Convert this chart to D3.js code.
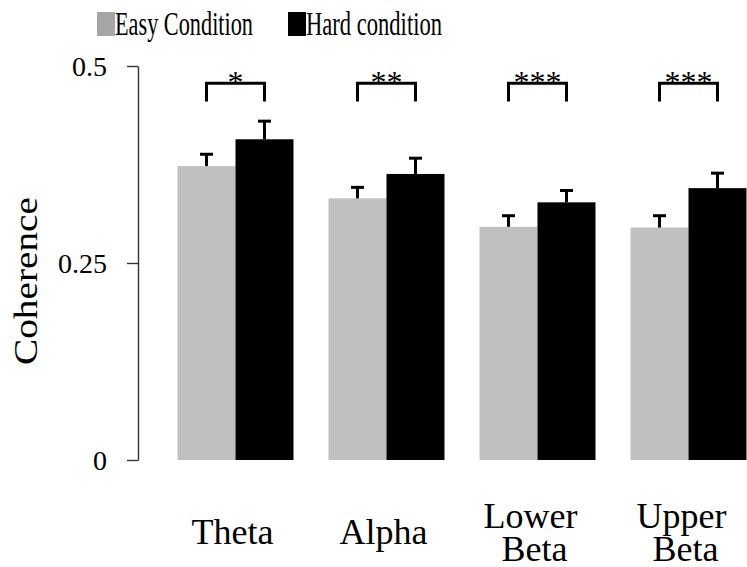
<!DOCTYPE html>
<html>
<head>
<meta charset="utf-8">
<script src="https://cdn.jsdelivr.net/npm/d3@7"></script>
<style>
  html, body { margin: 0; padding: 0; background: #fff; }
  svg { display: block; }
  svg text { font-family: "Liberation Serif", "Times New Roman", serif; }
</style>
</head>
<body>
<svg id="chart" width="747" height="567"></svg>
<script>
// Frequency bands and mean coherence per condition
const bands = ["Theta", "Alpha", "Lower Beta", "Upper Beta"];
const bandLines = [["Theta"], ["Alpha"], ["Lower", "Beta"], ["Upper", "Beta"]];
const conditions = ["Easy Condition", "Hard condition"];
const easyValues = [0.373, 0.332, 0.296, 0.295];
const hardValues = [0.407, 0.363, 0.327, 0.345];
const easyErrors = [0.015, 0.014, 0.014, 0.015];
const hardErrors = [0.023, 0.020, 0.015, 0.019];
const significance = ["*", "**", "***", "***"];
const bracketTop = 0.478;
const bracketLeg = 0.455;
const yTicks = [0, 0.25, 0.5];

const FONT = "Liberation Serif";
const colors = { easy: "#c0c0c0", hard: "#000000", easyKey: "#a6a6a6" };

const svg = d3.select("#chart");

const y = d3.scaleLinear().domain([0, 0.5]).range([460, 66]);
const x = d3.scaleBand().domain(bands).range([160, 764])
  .paddingInner(0.232).paddingOuter(0.116);
const xc = d3.scaleBand().domain(["easy", "hard"]).range([0, x.bandwidth()]);

// y axis
const yAxis = d3.axisLeft(y).tickValues(yTicks).tickFormat(d => String(d))
  .tickSize(11).tickSizeOuter(0).tickPadding(20);
const gy = svg.append("g").attr("transform", "translate(138,0)").call(yAxis)
  .attr("font-family", FONT);
gy.selectAll("path, line").attr("stroke", "#333").attr("stroke-width", 1.4);
gy.selectAll("text").attr("font-family", FONT).attr("font-size", 28)
  .attr("fill", "#000").attr("dy", "0.34em");

// axis title
svg.append("text")
  .attr("transform", "translate(37,281) rotate(-90)")
  .attr("text-anchor", "middle")
  .attr("font-family", FONT)
  .attr("font-size", 33)
  .attr("textLength", 168).attr("lengthAdjust", "spacingAndGlyphs")
  .text("Coherence");

const rows = bands.map((b, i) => ({
  band: b, lines: bandLines[i],
  easy: easyValues[i], hard: hardValues[i],
  easyErr: easyErrors[i], hardErr: hardErrors[i],
  sig: significance[i]
}));

const groups = svg.append("g").selectAll("g").data(rows).join("g")
  .attr("transform", d => `translate(${x(d.band)},0)`);

const pairs = d => [
  { key: "easy", v: d.easy, e: d.easyErr },
  { key: "hard", v: d.hard, e: d.hardErr }
];

// bars
groups.selectAll("rect").data(pairs).join("rect")
  .attr("x", d => xc(d.key))
  .attr("width", xc.bandwidth())
  .attr("y", d => y(d.v))
  .attr("height", d => y(0) - y(d.v))
  .attr("fill", d => colors[d.key]);

// error bars (upper half)
const eb = groups.selectAll("g.err").data(pairs).join("g").attr("class", "err");
eb.append("line")
  .attr("x1", d => xc(d.key) + xc.bandwidth() / 2)
  .attr("x2", d => xc(d.key) + xc.bandwidth() / 2)
  .attr("y1", d => y(d.v)).attr("y2", d => y(d.v + d.e))
  .attr("stroke", "#000").attr("stroke-width", 3);
eb.append("line")
  .attr("x1", d => xc(d.key) + xc.bandwidth() / 2 - 6.5)
  .attr("x2", d => xc(d.key) + xc.bandwidth() / 2 + 6.5)
  .attr("y1", d => y(d.v + d.e)).attr("y2", d => y(d.v + d.e))
  .attr("stroke", "#000").attr("stroke-width", 3);

// significance brackets
const cx1 = xc("easy") + xc.bandwidth() / 2;
const cx2 = xc("hard") + xc.bandwidth() / 2;
groups.append("path")
  .attr("d", `M${cx1},${y(bracketLeg)}V${y(bracketTop)}H${cx2}V${y(bracketLeg)}`)
  .attr("fill", "none").attr("stroke", "#000").attr("stroke-width", 3);
groups.append("text")
  .attr("x", (cx1 + cx2) / 2)
  .attr("y", y(bracketTop) + 10)
  .attr("text-anchor", "middle")
  .attr("font-family", FONT)
  .attr("font-size", 32)
  .text(d => d.sig);

// category labels
const lineH = 33;
groups.append("text")
  .attr("text-anchor", "middle")
  .attr("font-family", FONT)
  .attr("font-size", 36)
  .selectAll("tspan").data(d => d.lines.map((t, k) => ({ t, k, n: d.lines.length })))
  .join("tspan")
  .attr("x", d => x.bandwidth() / 2 + (d.n > 1 && d.k === 0 ? -7 : -3))
  .attr("y", d => 544 + (d.k - (d.n - 1) / 2) * lineH)
  .text(d => d.t);

// legend
const legend = [
  { label: conditions[0], color: colors.easyKey, x: 97, len: 138 },
  { label: conditions[1], color: colors.hard, x: 288, len: 136 }
];
const lg = svg.append("g").selectAll("g").data(legend).join("g")
  .attr("transform", d => `translate(${d.x},0)`);
lg.append("rect").attr("x", 0).attr("y", 12).attr("width", 18).attr("height", 24)
  .attr("fill", d => d.color);
lg.append("text").attr("x", 18).attr("y", 35)
  .attr("font-family", FONT).attr("font-size", 33)
  .attr("textLength", d => d.len).attr("lengthAdjust", "spacingAndGlyphs")
  .text(d => d.label);
</script>
</body>
</html>
